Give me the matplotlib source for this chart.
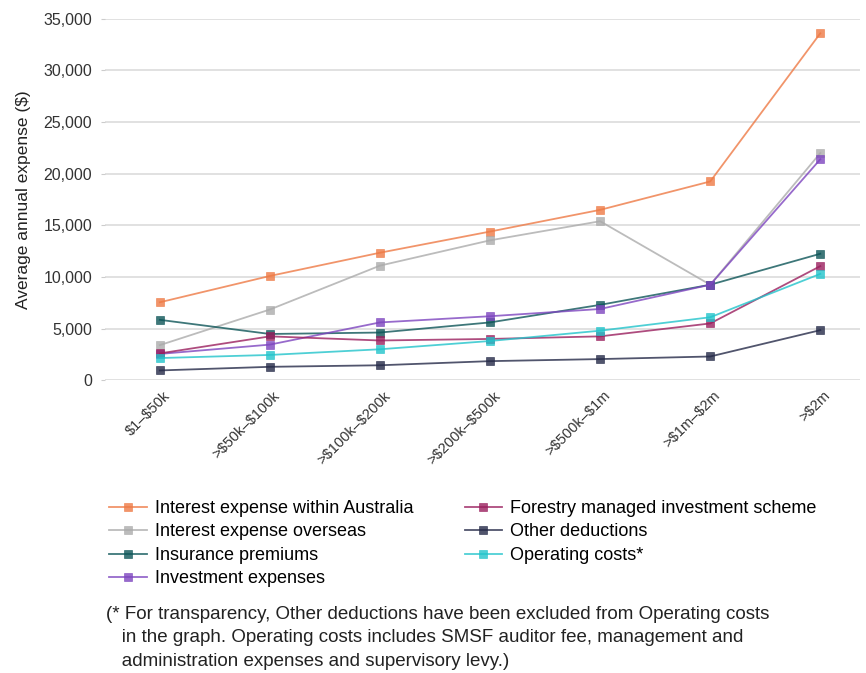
import matplotlib
matplotlib.use("Agg")
import matplotlib.pyplot as plt
from matplotlib.transforms import ScaledTranslation

plt.rcParams['font.family'] = ['Liberation Sans', 'DejaVu Sans']

categories = ["$1–$50k", ">$50k–$100k", ">$100k–$200k", ">$200k–$500k",
              ">$500k–$1m", ">$1m–$2m", ">$2m"]

interest_aus = [7550, 10100, 12350, 14400, 16500, 19250, 33600]
interest_overseas = [3400, 6850, 11100, 13550, 15400, 9250, 22000]
insurance = [5850, 4480, 4620, 5600, 7300, 9250, 12250]
investment = [2550, 3450, 5600, 6200, 6900, 9250, 21400]
forestry = [2600, 4250, 3850, 4000, 4250, 5500, 11050]
other_deductions = [950, 1300, 1450, 1850, 2050, 2300, 4850]
operating = [2150, 2450, 3000, 3800, 4800, 6100, 10300]

series = [
    ("Interest expense within Australia", interest_aus, "#ee7a45"),
    ("Interest expense overseas", interest_overseas, "#ababab"),
    ("Insurance premiums", insurance, "#0d5558"),
    ("Investment expenses", investment, "#7d45bf"),
    ("Forestry managed investment scheme", forestry, "#9a1f5e"),
    ("Other deductions", other_deductions, "#252a48"),
    ("Operating costs*", operating, "#22c4cb"),
]

yticks = [0, 5000, 10000, 15000, 20000, 25000, 30000, 35000]


def esc(s):
    return s.replace("$", r"\$")


fig = plt.figure(figsize=(8.66, 6.73), dpi=100)
ax = fig.add_axes([0.121, 0.435, 0.872, 0.537])

x = list(range(len(categories)))
for name, vals, col in series:
    ax.plot(x, vals, color=col, lw=1.3, alpha=0.8, marker="s", ms=5.5,
            markerfacecolor=col, markeredgecolor=col, markeredgewidth=0.5,
            label=name, zorder=3)

ax.set_xlim(-0.5, 6.36)
ax.set_ylim(0, 35000)
ax.set_yticks(yticks)
ax.set_yticklabels([f"{v:,}" for v in yticks], fontsize=11.5, color="#333333")
ax.yaxis.grid(True, color="#dcdcdc", lw=1.2)
ax.set_axisbelow(True)
for s in ax.spines.values():
    s.set_visible(False)
ax.tick_params(axis="y", length=3, color="#cccccc", pad=6)
ax.tick_params(axis="x", length=0, pad=6)
ax.set_xticks(x)
ax.set_xticklabels([esc(c) for c in categories], rotation=45, ha="right",
                   rotation_mode="anchor", fontsize=10.5, color="#333333")
offset = ScaledTranslation(3 / 100, 0, fig.dpi_scale_trans)
for lbl in ax.get_xticklabels():
    lbl.set_transform(lbl.get_transform() + offset)

ax.set_ylabel(esc("Average annual expense ($)"), fontsize=12.5, color="#222222",
              labelpad=9)

fig.legend(loc="upper left", bbox_to_anchor=(0.118, 0.268), ncol=2, frameon=False,
           fontsize=13, handlelength=2.1, handletextpad=0.4, columnspacing=2.85,
           labelspacing=0.36, borderaxespad=0)

note = ("(* For transparency, Other deductions have been excluded from Operating costs\n"
        "   in the graph. Operating costs includes SMSF auditor fee, management and\n"
        "   administration expenses and supervisory levy.)")
fig.text(0.122, 0.1, note, fontsize=13.5, color="#222222", va="top", linespacing=1.5)

fig.savefig("out.png", dpi=100)
